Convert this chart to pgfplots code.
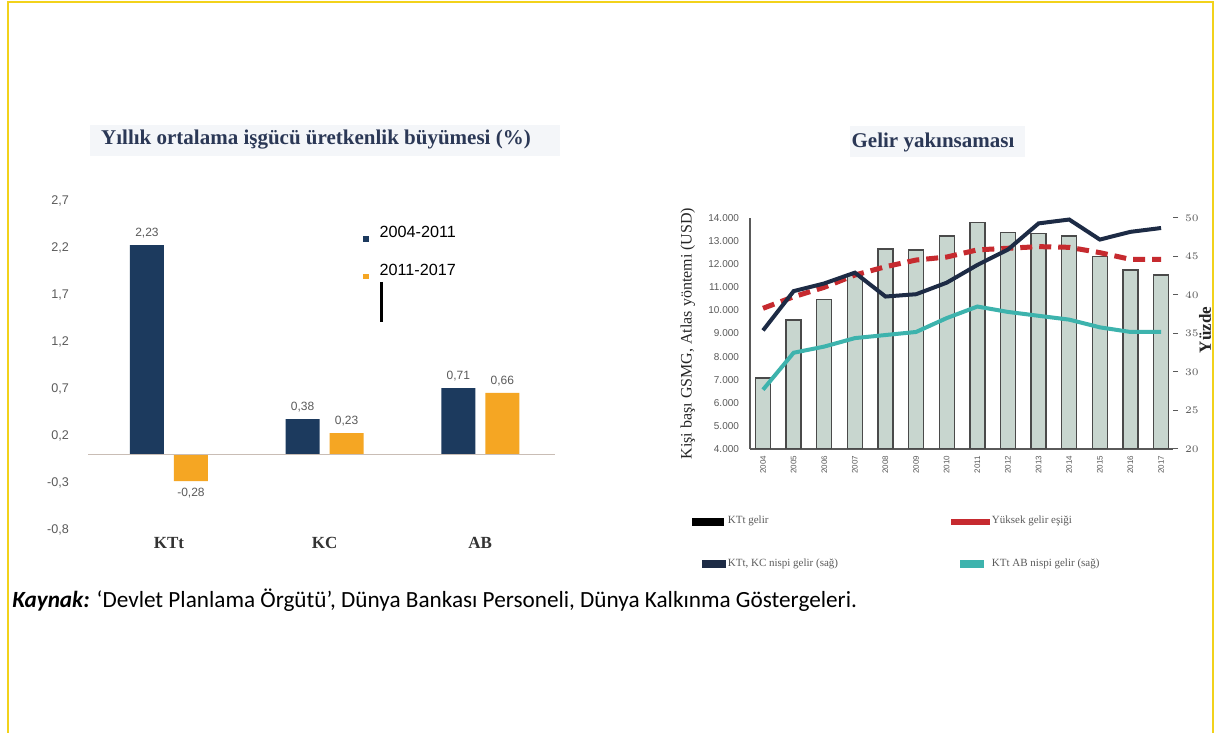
\documentclass[border=0pt]{standalone}
\usepackage{fontspec}
\setmainfont{Liberation Serif}
\newfontfamily\arial{Liberation Sans}
\newfontfamily\calibri{Carlito}
\usepackage{pgfplots}
\pgfplotsset{compat=1.18}

\definecolor{kblue}{HTML}{1C3A5E}
\definecolor{korange}{HTML}{F5A623}
\definecolor{ktitle}{HTML}{2B3856}
\definecolor{ktick}{HTML}{5A5A5A}
\definecolor{kzero}{HTML}{C9BDB5}
\definecolor{kbar}{HTML}{C8D6CF}
\definecolor{kbaredge}{HTML}{4A4A4A}
\definecolor{kaxis}{HTML}{5A5A5A}
\definecolor{knavy}{HTML}{1D2B45}
\definecolor{kred}{HTML}{C62A2F}
\definecolor{kteal}{HTML}{3DB3AD}
\definecolor{kyellow}{HTML}{F2D21B}
\definecolor{kbg}{HTML}{F4F6F9}

\begin{document}
\begin{tikzpicture}
\path[use as bounding box, fill=white] (0,0) rectangle (608pt,366.5pt);

% decorations in pixel units (y downwards)
\begin{scope}[x=0.5pt, y=-0.5pt, shift={(0pt,366.5pt)}]
  \draw[kyellow, line width=1pt] (8,733) -- (8,2) -- (1213,2) -- (1213,733);
  \fill[kbg] (90,125) rectangle (560,156);
  \fill[kbg] (850,126) rectangle (1025,157);
  \node[font=\fontsize{10.5}{12}\selectfont\bfseries, text=ktitle] at (316,140)
    {Yıllık ortalama işgücü üretkenlik büyümesi (\%)};
  \node[font=\fontsize{10.5}{12}\selectfont\bfseries, text=ktitle] at (933,142)
    {Gelir yakınsaması};
  \draw[black, line width=1.5pt] (381,282) -- (381,322);
  \node[anchor=west, font=\calibri\fontsize{11.6}{13}\selectfont, inner sep=0pt] at (12,600)
    {\textbf{\textit{Kaynak:}} ‘Devlet Planlama Örgütü’, Dünya Bankası Personeli, Dünya Kalkınma Göstergeleri.};
\end{scope}

% left chart
\begin{axis}[
  at={(44pt,101.5pt)}, anchor=south west,
  scale only axis, width=233.5pt, height=164.5pt,
  xmin=-0.52, xmax=2.48, ymin=-0.8, ymax=2.7,
  ybar=5pt, bar width=17pt,
  axis line style={draw=none},
  major tick length=0pt,
  xtick={0,1,2}, xticklabels={KTt,KC,AB},
  xticklabel style={font=\fontsize{8.5}{10}\selectfont\bfseries, text=black!80},
  ytick={-0.8,-0.3,0.2,0.7,1.2,1.7,2.2,2.7},
  yticklabel style={font=\arial\fontsize{6.3}{7}\selectfont, text=ktick, xshift=-6pt,
    /pgf/number format/.cd, fixed, fixed zerofill, precision=1, use comma, assume math mode=true},
  nodes near coords,
  nodes near coords style={font=\arial\fontsize{6}{7}\selectfont, text=ktick,
    /pgf/number format/.cd, fixed, fixed zerofill, precision=2, use comma, assume math mode=true},
  legend style={at={(0.589,0.936)}, anchor=north west, draw=none, fill=none,
    font=\arial\fontsize{8.1}{9}\selectfont, row sep=7.5pt, inner sep=0pt,
    nodes={inner sep=2pt},
    /tikz/every odd column/.append style={column sep=3.5pt}},
  legend cell align=left,
]
\addplot[fill=kblue, draw=none,
  legend image code/.code={\fill[kblue] (0pt,-4pt) rectangle (2.6pt,-1.4pt);}]
  coordinates {(0,2.23) (1,0.38) (2,0.71)};
\addlegendentry{2004-2011}
\addplot[fill=korange, draw=none,
  legend image code/.code={\fill[korange] (0pt,-4pt) rectangle (2.6pt,-1.4pt);}]
  coordinates {(0,-0.28) (1,0.23) (2,0.66)};
\addlegendentry{2011-2017}
\draw[kzero, line width=0.6pt] (axis cs:-0.52,0) -- (axis cs:2.48,0);
\end{axis}

% right chart, left axis
\begin{axis}[
  at={(375pt,142pt)}, anchor=south west,
  scale only axis, width=211.5pt, height=115.5pt,
  xmin=-0.425, xmax=13.39, ymin=4000, ymax=14000,
  axis x line*=bottom, axis y line*=left,
  axis line style={-, draw=kaxis, line width=1pt},
  major tick length=0pt,
  ytick={4000,5000,...,14000}, scaled y ticks=false,
  yticklabel style={font=\arial\fontsize{5}{6}\selectfont, text=ktick, xshift=-2pt,
    /pgf/number format/.cd, 1000 sep={.}, assume math mode=true},
  xtick={0,...,13},
  xticklabels={2004,2005,2006,2007,2008,2009,2010,2011,2012,2013,2014,2015,2016,2017},
  xticklabel style={rotate=90, anchor=east, font=\arial\fontsize{4}{5}\selectfont, text=ktick},
  ylabel={Kişi başı GSMG, Atlas yöntemi (USD)},
  ylabel style={at={(axis description cs:-0.147,0.5)}, anchor=center,
    font=\fontsize{8}{9}\selectfont, text=black!85},
]
\addplot[ybar, bar width=7.5pt, fill=kbar, draw=kbaredge, line width=0.7pt]
  coordinates {(0,7080) (1,9580) (2,10480) (3,11600) (4,12660) (5,12620) (6,13220)
    (7,13800) (8,13360) (9,13330) (10,13220) (11,12330) (12,11750) (13,11530)};
\addplot[kred, line width=2.5pt, dash pattern=on 6pt off 3.5pt]
  coordinates {(0,10090) (1,10590) (2,11000) (3,11530) (4,11890) (5,12180) (6,12310)
    (7,12620) (8,12690) (9,12760) (10,12730) (11,12500) (12,12210) (13,12210)};
\end{axis}

% right chart, right axis
\begin{axis}[
  at={(375pt,142pt)}, anchor=south west,
  scale only axis, width=211.5pt, height=115.5pt,
  xmin=-0.425, xmax=13.39, ymin=20, ymax=50,
  axis x line=none, axis y line*=right,
  axis line style={-, draw=none},
  ytick={20,25,...,50},
  tick align=outside, major tick length=2.5pt,
  tick style={kaxis, line width=0.5pt},
  yticklabel style={font=\arial\fontsize{5}{6}\selectfont, text=ktick},
  ylabel={Yüzde},
  every axis y label/.style={at={(axis description cs:1.076,0.515)}, anchor=center,
    rotate=90, font=\fontsize{8.5}{10}\selectfont\bfseries, text=black!85},
  legend style={at={(-0.137,-0.281)}, anchor=north west, draw=none, fill=none,
    font=\fontsize{5.5}{6.5}\selectfont, text=ktick, row sep=14pt, inner sep=0pt,
    nodes={inner sep=1pt},
    /tikz/every even column/.append style={column sep=55.5pt}},
  legend columns=2, legend cell align=left,
]
\addlegendimage{legend image code/.code={\fill[black] (0pt,-1.75pt) rectangle (15.5pt,1.75pt);}}
\addlegendentry{KTt gelir}
\addlegendimage{legend image code/.code={\fill[kred] (0pt,-1.2pt) rectangle (19pt,1.2pt);}}
\addlegendentry{Yüksek gelir eşiği}
\addplot[knavy, line width=2pt,
  legend image code/.code={\fill[knavy] (5.5pt,-1pt) rectangle (15.5pt,1pt);}]
  coordinates {(0,35.4) (1,40.5) (2,41.5) (3,42.9) (4,39.8) (5,40.1) (6,41.6)
    (7,43.9) (8,45.9) (9,49.3) (10,49.8) (11,47.2) (12,48.2) (13,48.7)};
\addlegendentry{KTt, KC nispi gelir (sağ)}
\addplot[kteal, line width=2pt,
  legend image code/.code={\fill[kteal] (5pt,-1pt) rectangle (15pt,1pt);}]
  coordinates {(0,27.7) (1,32.5) (2,33.3) (3,34.4) (4,34.8) (5,35.2) (6,37.0)
    (7,38.5) (8,37.8) (9,37.3) (10,36.8) (11,35.8) (12,35.2) (13,35.2)};
\addlegendentry{KTt AB nispi gelir (sağ)}
\end{axis}
\end{tikzpicture}
\end{document}
